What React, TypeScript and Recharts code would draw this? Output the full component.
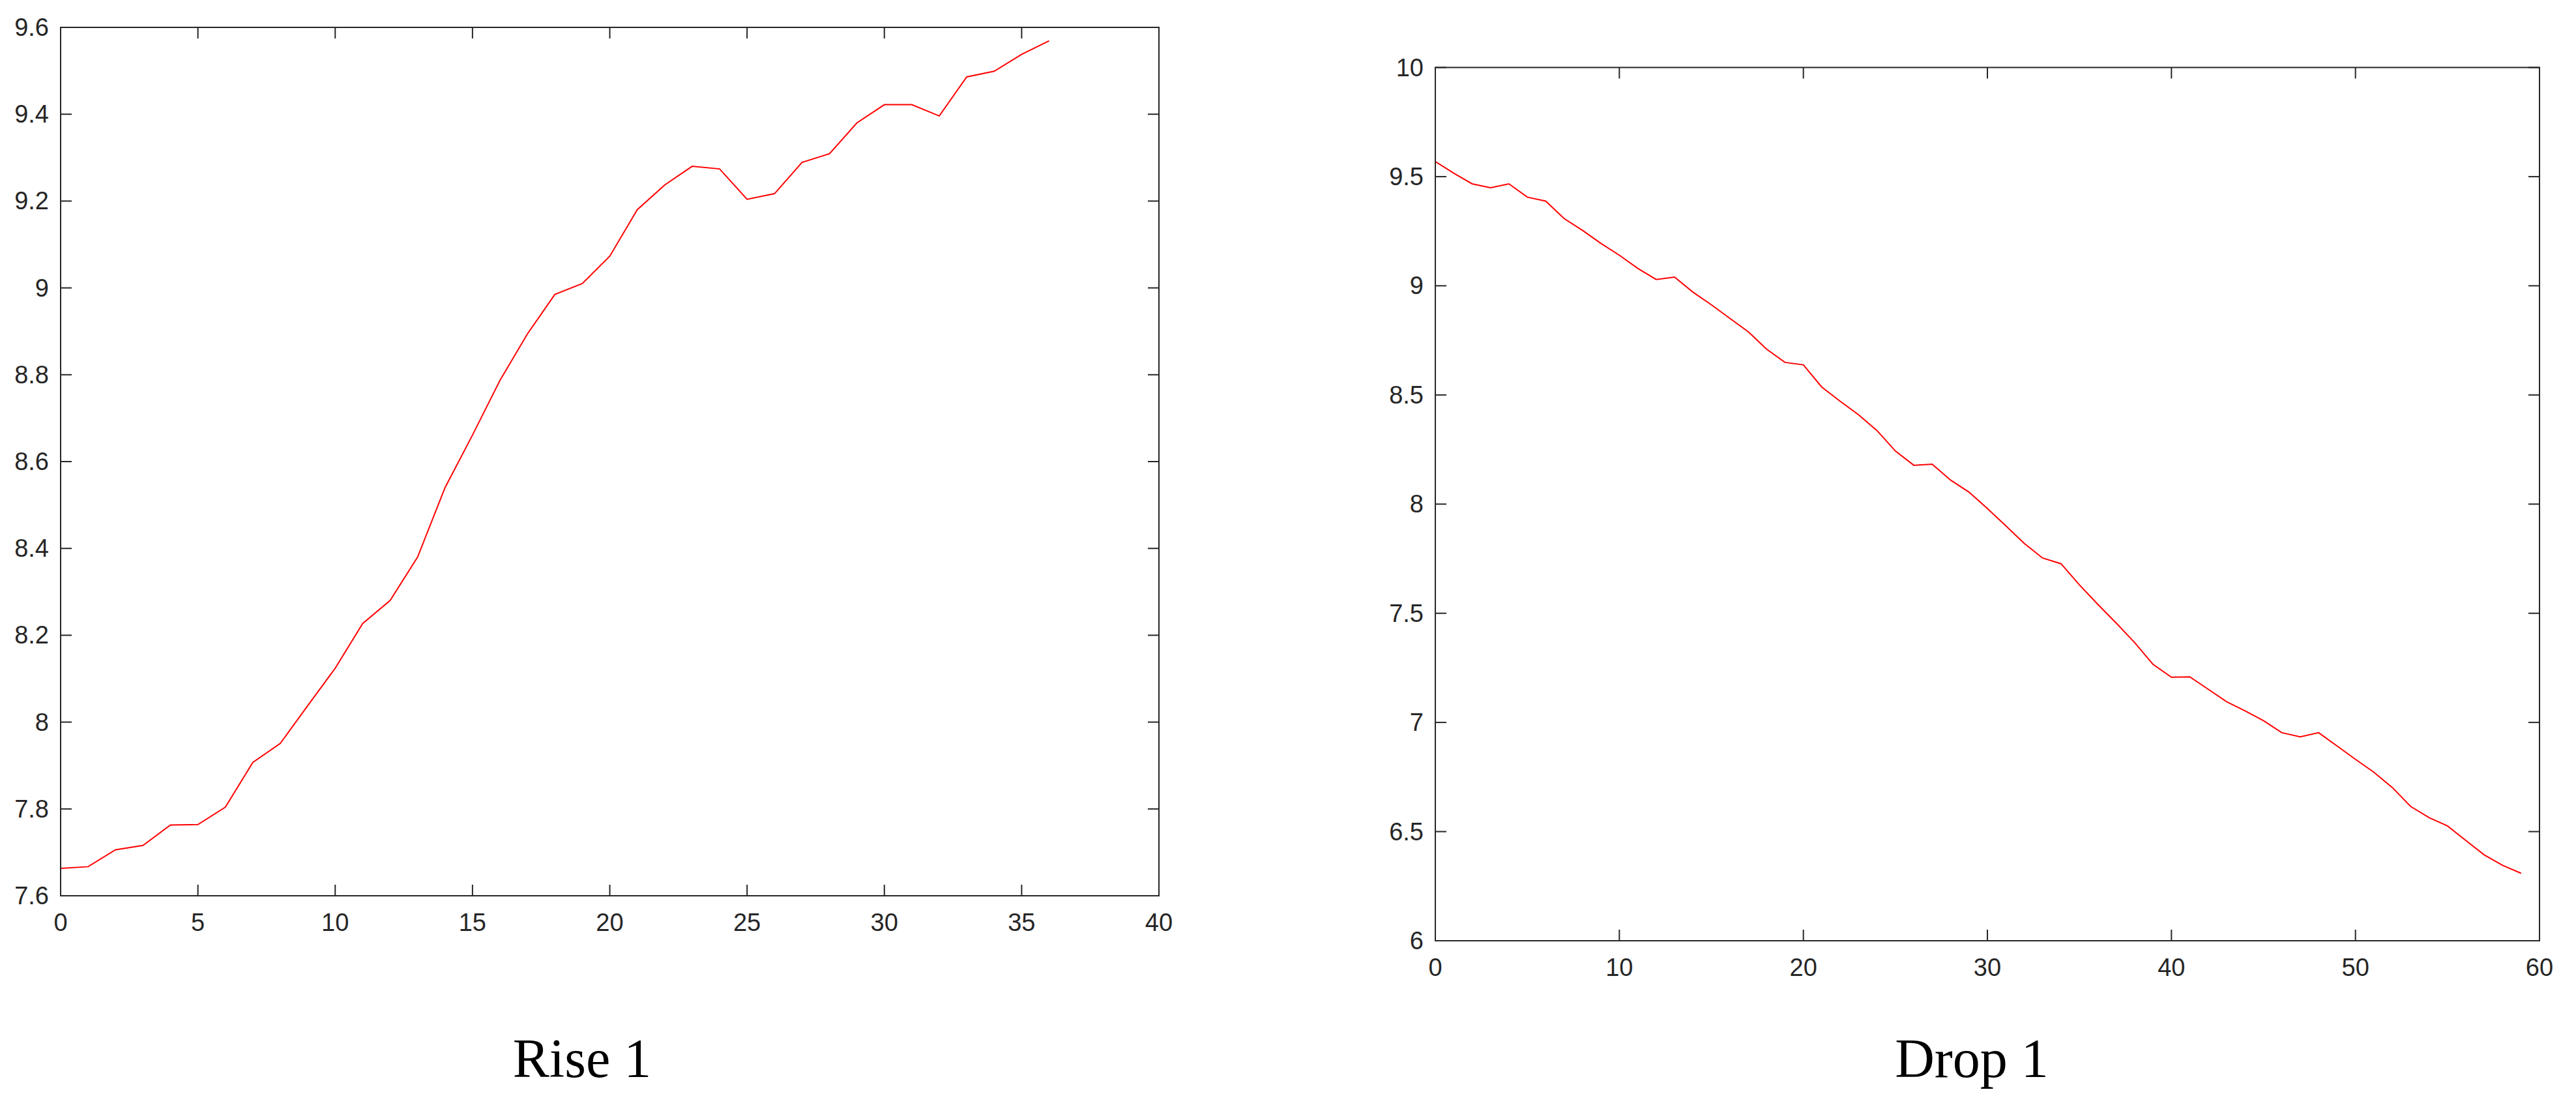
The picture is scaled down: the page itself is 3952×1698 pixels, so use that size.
import React from 'react';
import { LineChart, Line, XAxis, YAxis, ReferenceArea } from 'recharts';

// ---- Data: "Rise 1" ----
const riseValues = [
  7.663, 7.667, 7.706, 7.716, 7.763, 7.764, 7.804, 7.907, 7.951, 8.038,
  8.124, 8.227, 8.28, 8.38, 8.54, 8.661, 8.787, 8.894, 8.985, 9.01,
  9.073, 9.18, 9.237, 9.28, 9.274, 9.204, 9.217, 9.289, 9.309, 9.38,
  9.422, 9.422, 9.396, 9.486, 9.499, 9.538, 9.569,
];
const riseXTicks = [0, 5, 10, 15, 20, 25, 30, 35, 40];
const riseXLabels = ['0', '5', '10', '15', '20', '25', '30', '35', '40'];
const riseYTicks = [7.6, 7.8, 8, 8.2, 8.4, 8.6, 8.8, 9, 9.2, 9.4, 9.6];
const riseYLabels = ['7.6', '7.8', '8', '8.2', '8.4', '8.6', '8.8', '9', '9.2', '9.4', '9.6'];
const riseTitle = 'Rise 1';

// ---- Data: "Drop 1" ----
const dropValues = [
  9.569, 9.516, 9.467, 9.449, 9.467, 9.406, 9.388, 9.308, 9.254, 9.194,
  9.14, 9.08, 9.029, 9.04, 8.971, 8.913, 8.851, 8.79, 8.71, 8.649,
  8.638, 8.536, 8.471, 8.409, 8.337, 8.243, 8.178, 8.183, 8.11, 8.055,
  7.98, 7.901, 7.82, 7.753, 7.727, 7.63, 7.541, 7.455, 7.366, 7.266,
  7.207, 7.209, 7.152, 7.095, 7.053, 7.008, 6.953, 6.934, 6.953, 6.892,
  6.831, 6.772, 6.702, 6.615, 6.564, 6.526, 6.459, 6.393, 6.345, 6.309,
];
const dropXTicks = [0, 10, 20, 30, 40, 50, 60];
const dropXLabels = ['0', '10', '20', '30', '40', '50', '60'];
const dropYTicks = [6, 6.5, 7, 7.5, 8, 8.5, 9, 9.5, 10];
const dropYLabels = ['6', '6.5', '7', '7.5', '8', '8.5', '9', '9.5', '10'];
const dropTitle = 'Drop 1';

const riseData = riseValues.map((v, i) => ({ x: i, y: v }));
const dropData = dropValues.map((v, i) => ({ x: i, y: v }));

const AXIS = '#262626';
const TICK_LEN = 17;
const FONT = '"Liberation Sans", Arial, Helvetica, sans-serif';
const FS = 38;

const labelFor = (ticks: number[], labels: string[], v: number) => {
  const idx = ticks.findIndex((t) => Math.abs(t - v) < 1e-9);
  return idx >= 0 ? labels[idx] : String(v);
};

type Box = { left: number; right: number; top: number; bottom: number };

const makeBottomTick = (ticks: number[], labels: string[], box: Box) => (props: any) => {
  const { x, payload } = props;
  return (
    <g>
      <line x1={x} y1={box.bottom} x2={x} y2={box.bottom - TICK_LEN} stroke={AXIS} strokeWidth={2} />
      <line x1={x} y1={box.top} x2={x} y2={box.top + TICK_LEN} stroke={AXIS} strokeWidth={2} />
      <text x={x} y={box.bottom + 54} textAnchor="middle" fontFamily={FONT} fontSize={FS} fill={AXIS}>
        {labelFor(ticks, labels, payload.value)}
      </text>
    </g>
  );
};

const makeLeftTick = (ticks: number[], labels: string[], box: Box) => (props: any) => {
  const { y, payload } = props;
  return (
    <g>
      <line x1={box.left} y1={y} x2={box.left + TICK_LEN} y2={y} stroke={AXIS} strokeWidth={2} />
      <line x1={box.right} y1={y} x2={box.right - TICK_LEN} y2={y} stroke={AXIS} strokeWidth={2} />
      <text x={box.left - 18} y={y + 13} textAnchor="end" fontFamily={FONT} fontSize={FS} fill={AXIS}>
        {labelFor(ticks, labels, payload.value)}
      </text>
    </g>
  );
};

type PanelProps = {
  data: { x: number; y: number }[];
  xTicks: number[];
  xLabels: string[];
  yTicks: number[];
  yLabels: string[];
  width: number;
  height: number;
  box: Box;
};

const Panel = ({ data, xTicks, xLabels, yTicks, yLabels, width, height, box }: PanelProps) => {
  const xDomain = [xTicks[0], xTicks[xTicks.length - 1]];
  const yDomain = [yTicks[0], yTicks[yTicks.length - 1]];
  const margin = { top: box.top, right: width - box.right, bottom: 0, left: 0 };
  return (
    <LineChart width={width} height={height} data={data} margin={margin}>
      <XAxis
        xAxisId="b"
        orientation="bottom"
        type="number"
        dataKey="x"
        domain={xDomain}
        ticks={xTicks}
        allowDataOverflow
        interval={0}
        height={height - box.bottom}
        tickSize={0}
        tickMargin={0}
        tickLine={false}
        axisLine={{ stroke: AXIS, strokeWidth: 2 }}
        tick={makeBottomTick(xTicks, xLabels, box)}
      />
      <YAxis
        yAxisId="l"
        orientation="left"
        type="number"
        domain={yDomain}
        ticks={yTicks}
        allowDataOverflow
        interval={0}
        width={box.left}
        tickSize={0}
        tickMargin={0}
        tickLine={false}
        axisLine={{ stroke: AXIS, strokeWidth: 2 }}
        tick={makeLeftTick(yTicks, yLabels, box)}
      />
      <ReferenceArea
        xAxisId="b"
        yAxisId="l"
        x1={xDomain[0]}
        x2={xDomain[1]}
        y1={yDomain[0]}
        y2={yDomain[1]}
        fill="none"
        fillOpacity={0}
        stroke={AXIS}
        strokeWidth={2}
        strokeOpacity={1}
        ifOverflow="visible"
      />
      <Line
        xAxisId="b"
        yAxisId="l"
        type="linear"
        dataKey="y"
        stroke="#ff0000"
        strokeWidth={2}
        dot={false}
        activeDot={false}
        isAnimationActive={false}
      />
    </LineChart>
  );
};

export default function App() {
  return (
    <div style={{ position: 'absolute', left: 0, top: 0, width: 3952, height: 1698, background: '#ffffff', overflow: 'hidden' }}>
      <div style={{ position: 'absolute', left: 0, top: 0 }}>
        <Panel
          data={riseData}
          xTicks={riseXTicks}
          xLabels={riseXLabels}
          yTicks={riseYTicks}
          yLabels={riseYLabels}
          width={1830}
          height={1480}
          box={{ left: 93, right: 1778, top: 42, bottom: 1374 }}
        />
      </div>
      <div style={{ position: 'absolute', left: 2000, top: 0 }}>
        <Panel
          data={dropData}
          xTicks={dropXTicks}
          xLabels={dropXLabels}
          yTicks={dropYTicks}
          yLabels={dropYLabels}
          width={1952}
          height={1540}
          box={{ left: 202, right: 1896, top: 103.5, bottom: 1443 }}
        />
      </div>
      <svg width={3952} height={1698} style={{ position: 'absolute', left: 0, top: 0, pointerEvents: 'none' }}>
        <text x={893} y={1652} textAnchor="middle" fontFamily='"Liberation Serif", "DejaVu Serif", serif' fontSize={84} fill="#000">
          {riseTitle}
        </text>
        <text x={3025} y={1652} textAnchor="middle" fontFamily='"Liberation Serif", "DejaVu Serif", serif' fontSize={84} fill="#000">
          {dropTitle}
        </text>
      </svg>
    </div>
  );
}
